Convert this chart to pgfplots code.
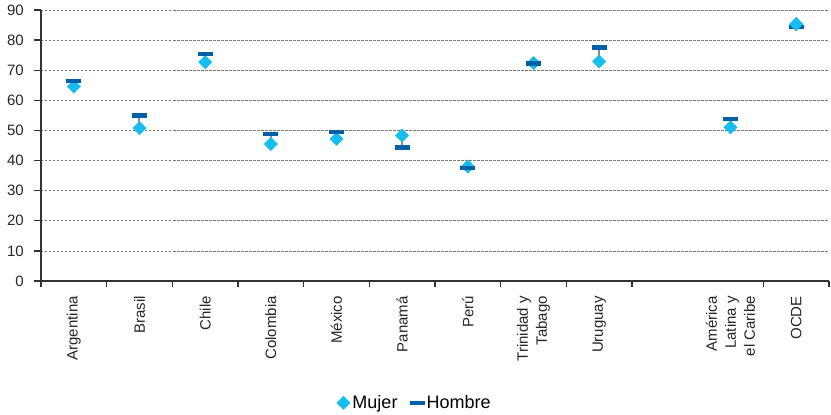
\documentclass[border=0pt]{standalone}
\usepackage{fontspec}
\setmainfont{Liberation Sans}
\usepackage{pgfplots}
\pgfplotsset{compat=1.18}

\definecolor{mujer}{RGB}{22,190,240}
\definecolor{hombre}{RGB}{0,96,166}
\definecolor{stem}{RGB}{140,140,140}
\definecolor{gridc}{RGB}{120,120,120}
\definecolor{axisc}{RGB}{50,50,50}

% square diamond and flat bar marks
\pgfdeclareplotmark{dmd}{%
  \pgfpathmoveto{\pgfqpoint{0pt}{\pgfplotmarksize}}%
  \pgfpathlineto{\pgfqpoint{\pgfplotmarksize}{0pt}}%
  \pgfpathlineto{\pgfqpoint{0pt}{-\pgfplotmarksize}}%
  \pgfpathlineto{\pgfqpoint{-\pgfplotmarksize}{0pt}}%
  \pgfpathclose\pgfusepathqfill}
\pgfdeclareplotmark{hbar}{%
  \pgfpathrectangle{\pgfqpoint{-\pgfplotmarksize}{-2.2pt}}{\pgfqpoint{2\pgfplotmarksize}{4.4pt}}%
  \pgfusepathqfill}

\begin{document}
\begin{tikzpicture}
  \begin{axis}[
    at={(0pt,0pt)}, anchor=south west,
    scale only axis,
    width=788pt, height=271pt,
    xmin=-0.5, xmax=11.5,
    ymin=0, ymax=90,
    ytick={0,10,...,90},
    xtick={0,1,2,3,4,5,6,7,8,10,11},
    xticklabels={Argentina,Brasil,Chile,Colombia,México,Panamá,Perú,Trinidad y\\Tabago,Uruguay,América\\Latina y\\el Caribe,OCDE},
    minor xtick={-0.5,0.5,1.5,2.5,3.5,4.5,5.5,6.5,7.5,8.5,10.5,11.5},
    axis lines=left,
    axis line style={-, color=axisc, line width=1.3pt},
    tick align=outside,
    major tick length=7pt,
    minor tick length=6pt,
    major x tick style={draw=none},
    minor x tick style={color=axisc, line width=1.3pt},
    major y tick style={color=axisc, line width=1.3pt},
    ymajorgrids,
    major grid style={color=gridc, dash pattern=on 2.5pt off 1.5pt, line width=0.7pt},
    /pgf/number format/assume math mode=true,
    yticklabel style={font=\fontsize{15}{17}\selectfont, text=black!85, inner sep=0pt, xshift=-10pt},
    xticklabel style={font=\fontsize{15}{19}\selectfont, text=black!85, yshift=-8pt, rotate=90, anchor=east, align=right, inner sep=0pt},
    legend style={at={(0.474,-0.45)}, anchor=center, draw=none, fill=none,
      legend columns=2, font=\fontsize{18}{20}\selectfont,
      /tikz/every even column/.append style={column sep=10pt}},
    legend image code/.code={%
      \path[mark repeat=2, mark phase=2, #1] plot coordinates {(0pt,0pt) (8pt,0pt) (21pt,0pt)};},
    legend cell align=left,
    clip=false,
  ]
    % thin grey stems between the two values
    \addplot[forget plot, no markers, color=stem, line width=2pt, unbounded coords=jump]
    coordinates {
      (0,64.6) (0,66.4) (0,nan)
      (1,50.8) (1,54.9) (1,nan)
      (2,72.7) (2,75.4) (2,nan)
      (3,45.5) (3,48.8) (3,nan)
      (4,47.2) (4,49.4) (4,nan)
      (5,48.3) (5,44.3) (5,nan)
      (6,38.0) (6,37.5) (6,nan)
      (7,72.4) (7,72.2) (7,nan)
      (8,72.9) (8,77.5) (8,nan)
      (10,51.0) (10,53.8) (10,nan)
      (11,85.3) (11,84.3)
    };
    \addplot[only marks, mark=dmd, mark size=7pt, color=mujer]
    coordinates {
      (0,64.6) (1,50.8) (2,72.7) (3,45.5) (4,47.2) (5,48.3)
      (6,38.0) (7,72.4) (8,72.9) (10,51.0) (11,85.3)
    };
    \addlegendentry{Mujer}
    \addplot[only marks, mark=hbar, mark size=7.5pt, color=hombre]
    coordinates {
      (0,66.4) (1,54.9) (2,75.4) (3,48.8) (4,49.4) (5,44.3)
      (6,37.5) (7,72.2) (8,77.5) (10,53.8) (11,84.3)
    };
    \addlegendentry{Hombre}
    % OCDE diamond sits above its bar
    \addplot[forget plot, only marks, mark=dmd, mark size=7pt, color=mujer]
    coordinates {(11,85.3)};
  \end{axis}
  \pgfresetboundingbox
  \path[use as bounding box] (-41pt,-134pt) rectangle (790pt,281pt);
\end{tikzpicture}
\end{document}
